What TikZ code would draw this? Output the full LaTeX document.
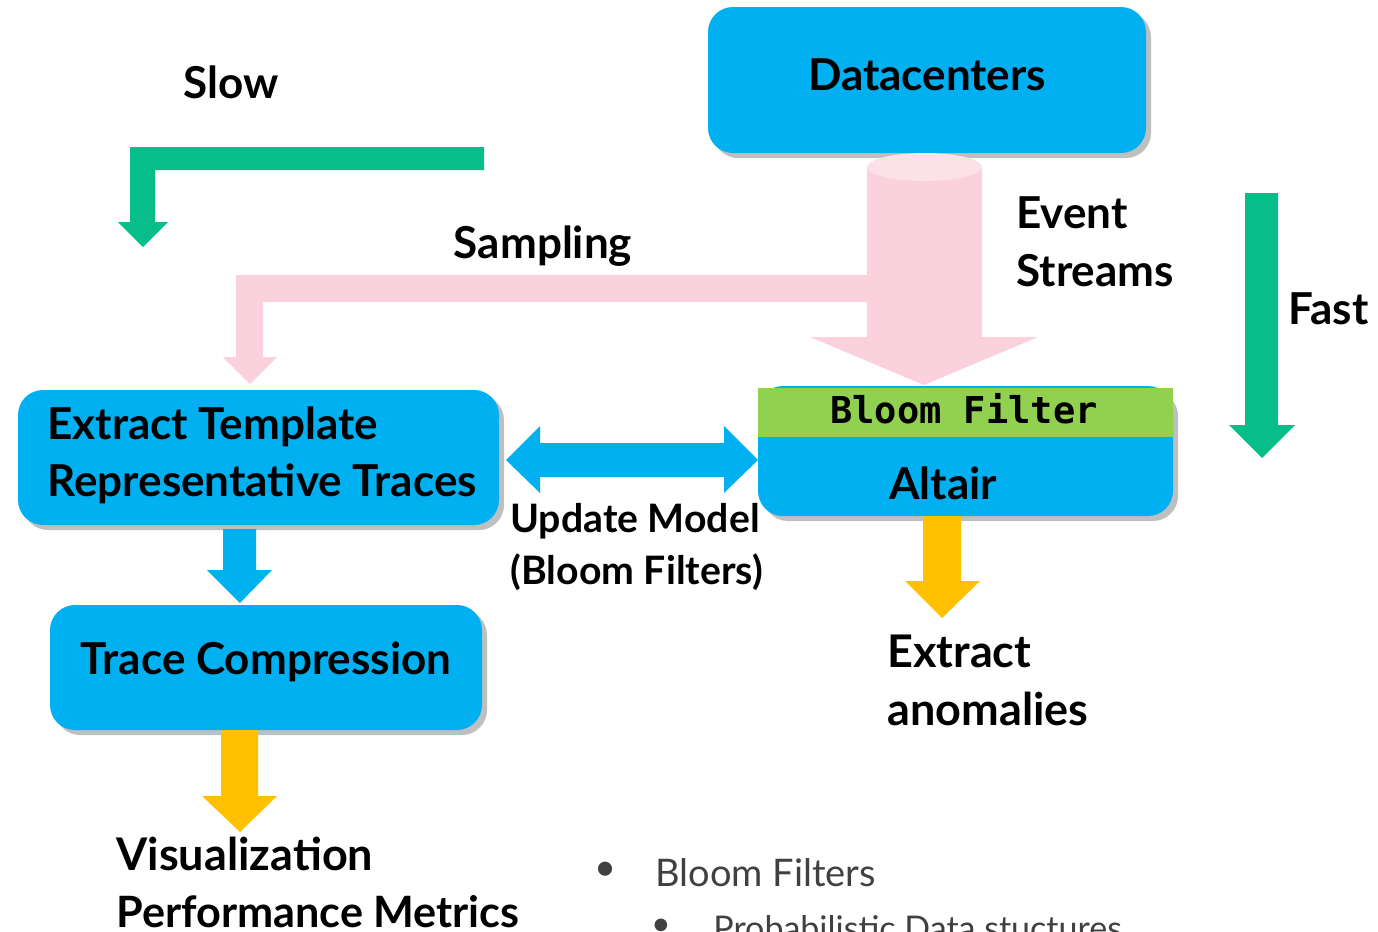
\documentclass[tikz,border=0pt]{standalone}
\usepackage{fontspec}
\setmainfont{Lato}
\newfontfamily\monofont{DejaVu Sans Mono}
\usetikzlibrary{shadows}
\definecolor{cblue}{HTML}{00B0F0}
\definecolor{cgreen}{HTML}{07BE8A}
\definecolor{cpink}{HTML}{FAD1DC}
\definecolor{cpinktop}{HTML}{FCE2E8}
\definecolor{cyellow}{HTML}{FFC000}
\definecolor{cband}{HTML}{92D050}
\definecolor{cgray}{HTML}{404040}
\tikzset{
  box/.style={fill=cblue, rounded corners=12.5pt, inner sep=0pt,
    drop shadow={shadow xshift=2.5pt, shadow yshift=-2.5pt, fill=black, opacity=0.25}},
  lbl/.style={font=\bfseries\fontsize{22}{29}\selectfont, inner sep=0pt, align=left},
  boxtxt/.style={font=\bfseries\fontsize{22}{28.5}\selectfont},
  bullet/.style={font=\fontsize{19}{23}\selectfont, text=cgray, inner sep=0pt},
}
\begin{document}
\begin{tikzpicture}[x=0.5pt,y=-0.5pt]
\useasboundingbox (0,0) rectangle (1378,932);
\clip (0,0) rectangle (1378,932);

% boxes
\node[box, minimum width=219pt, minimum height=73pt] (dc) at (927,80) {};
\node[boxtxt] (dct) at (927,75) {Datacenters};

\node[box, minimum width=240.5pt, minimum height=67.5pt] (ext) at (258.5,457.5) {};
\node[boxtxt, anchor=west, align=left, inner sep=0pt] (extt) at (47,455) {Extract Template\\Representative Traces};

\node[box, minimum width=216pt, minimum height=62.5pt] (tc) at (266,667.5) {};
\node[boxtxt] (tct) at (266,662) {Trace Compression};

\node[box, minimum width=207.5pt, minimum height=65pt] (alt) at (965.5,451) {};
\fill[cband] (758,388) rectangle (1173,437);
\node[font=\monofont\bfseries\fontsize{18.5}{22}\selectfont] (bf) at (964,409) {Bloom Filter};
\node[boxtxt] (altt) at (943,483) {Altair};

% green slow arrow
\fill[cgreen] (484,147) -- (130,147) -- (130,222) -- (118,222) -- (143,247) -- (168,222) -- (155,222) -- (155,170) -- (484,170) -- cycle;
% green fast arrow
\fill[cgreen] (1245,193) -- (1278,193) -- (1278,425) -- (1295,425) -- (1262,458) -- (1229,425) -- (1245,425) -- cycle;

% pink sampling arrow
\fill[cpink] (868,275) -- (236,275) -- (236,357) -- (223,357) -- (250,384) -- (277,357) -- (263,357) -- (263,302) -- (868,302) -- cycle;
% pink event stream cylinder arrow
\fill[cpink] (867,167) -- (982,167) -- (982,337) -- (1038,337) -- (924,385) -- (810,337) -- (867,337) -- cycle;
\fill[cpinktop] (924.5,167) ellipse [x radius=28.75pt, y radius=7pt];

% blue double arrow
\fill[cblue] (506,460) -- (540,426) -- (540,443) -- (724,443) -- (724,426) -- (758,460) -- (724,493) -- (724,477) -- (540,477) -- (540,493) -- cycle;
% blue down arrow
\fill[cblue] (223,529) -- (256,529) -- (256,570) -- (272,570) -- (240,603) -- (207,570) -- (223,570) -- cycle;
% yellow arrows
\fill[cyellow] (923,516) -- (961,516) -- (961,581) -- (980,581) -- (942,618) -- (905,581) -- (923,581) -- cycle;
\fill[cyellow] (221,730) -- (258,730) -- (258,796) -- (277,796) -- (240,832) -- (202,796) -- (221,796) -- cycle;

% labels
\node[lbl] (slow) at (231,82) {Slow};
\node[lbl] (samp) at (543,246) {Sampling};
\node[lbl, anchor=west] (ev) at (1016,242) {Event\\Streams};
\node[lbl, anchor=west] (fast) at (1288,309) {Fast};
\node[lbl, anchor=west, font=\bfseries\fontsize{19.6}{26}\selectfont] (upd) at (510,547) {Update Model\\(Bloom Filters)};
\node[lbl, anchor=west, font=\bfseries\fontsize{22.5}{29}\selectfont] (anom) at (887,680) {Extract\\anomalies};
\node[lbl, anchor=base west, font=\bfseries\fontsize{22.5}{29}\selectfont] (vis) at (116,870) {Visualization};
\node[lbl, anchor=base west, font=\bfseries\fontsize{21.6}{29}\selectfont] (perf) at (116,927) {Performance Metrics};

% bullets
\node[bullet] (b1) at (606,871) {•};
\node[bullet, anchor=west] (b1t) at (655,873) {Bloom Filters};
\node[bullet, font=\fontsize{17}{20}\selectfont] (b2) at (661,927) {•};
\node[bullet, anchor=base west, font=\fontsize{17}{20}\selectfont] (b2t) at (713,940) {Probabilistic Data stuctures};
\end{tikzpicture}
\end{document}
